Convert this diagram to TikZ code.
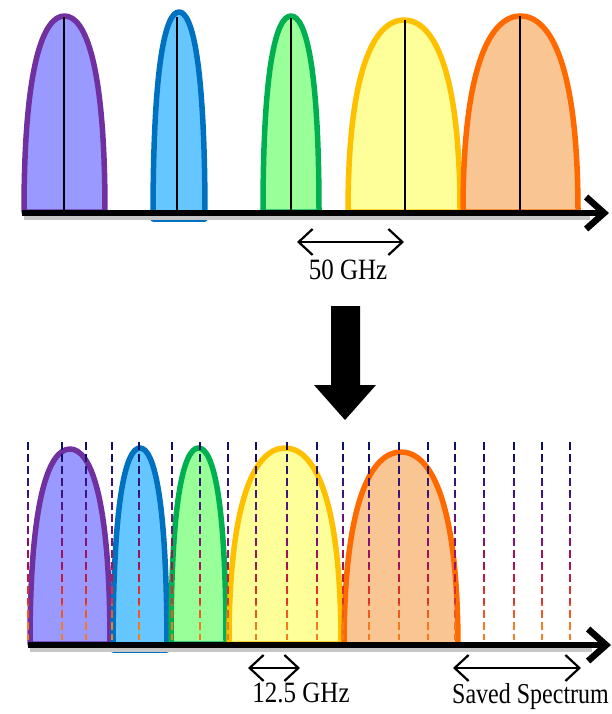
\documentclass[tikz,border=0pt]{standalone}
\usepackage{graphicx}
\usepackage{fontspec}
\setmainfont{Liberation Serif}
\usetikzlibrary{arrows.meta}
\definecolor{purpO}{HTML}{7030A0}
\definecolor{purpF}{HTML}{9999FF}
\definecolor{blueO}{HTML}{0070C0}
\definecolor{blueF}{HTML}{66C6FF}
\definecolor{greenO}{HTML}{00B050}
\definecolor{greenF}{HTML}{99FF99}
\definecolor{yellO}{HTML}{FFC000}
\definecolor{yellF}{HTML}{FFFF99}
\definecolor{oranO}{HTML}{FF6A00}
\definecolor{oranF}{HTML}{F9C593}
\tikzset{
  arch/.style={line width=5.5pt, line join=round},
  axisline/.style={line width=6pt, -{Straight Barb[length=18pt,width=32pt,line width=6.5pt]}},
  axisshadow/.style={line width=5pt, draw=black!22},
  centerline/.style={line width=2.8pt, draw=black},
  dblarrow/.style={line width=2.2pt, {Straight Barb[length=14pt,width=26pt]}-{Straight Barb[length=14pt,width=26pt]}},
  lbl/.style={inner sep=0pt, font=\fontsize{25}{28}\selectfont},
  gridline/.style={line width=2pt, dash pattern=on 8pt off 4pt}
}
\newcommand{\spectarch}[6]{%
  \pgfmathsetmacro\archcx{(#1+#2)/2}%
  \pgfmathsetmacro\archhw{(#2-#1)/2}%
  \pgfmathsetmacro\archcy{#3+0.25*(#4-#3)}%
  \pgfmathsetmacro\archla{\archcx-0.52*\archhw}%
  \pgfmathsetmacro\archra{\archcx+0.52*\archhw}%
  \draw[arch, draw=#5, fill=#6] (#1,#4) .. controls (#1,\archcy) and (\archla,#3) .. (\archcx,#3)
     .. controls (\archra,#3) and (#2,\archcy) .. (#2,#4) -- cycle;
}
\begin{document}
\begin{tikzpicture}[x=1pt,y=-1pt]
\useasboundingbox (0,0) rectangle (612,714);
% ---------- top panel ----------
\spectarch{24}{105}{16}{212}{purpO}{purpF}
\spectarch{153}{205}{12}{219}{blueO}{blueF}
\spectarch{263}{319}{16}{212}{greenO}{greenF}
\spectarch{348}{460}{20}{212}{yellO}{yellF}
\spectarch{463}{578}{16}{212}{oranO}{oranF}
\coordinate (c1t) at (64,17);   \coordinate (c1b) at (64,218);
\coordinate (c2t) at (177,17);  \coordinate (c2b) at (177,218);
\coordinate (c3t) at (291,18);  \coordinate (c3b) at (291,218);
\coordinate (c4t) at (405,20);  \coordinate (c4b) at (405,218);
\coordinate (c5t) at (520,16);  \coordinate (c5b) at (520,218);
\foreach \i in {1,...,5} \draw[centerline] (c\i t) -- (c\i b);
\coordinate (ta0) at (22,213);
\coordinate (ta1) at (609,213);
\draw[axisshadow] (24,217.5) -- (590,217.5);
\draw[axisline] (ta0) -- (ta1);
\coordinate (f0) at (297,242);
\coordinate (f1) at (404,242);
\draw[dblarrow] (f0) -- (f1);
\node[lbl] (l50) at (348,270) {\scalebox{1}[1.18]{50 GHz}};
% ---------- down arrow ----------
\fill[black] (331,306) -- (360,306) -- (360,385) -- (376,385) -- (345,420) -- (314,385) -- (331,385) -- cycle;
% ---------- bottom panel ----------
\spectarch{30}{110}{449}{644}{purpO}{purpF}
\spectarch{113}{167}{448}{650}{blueO}{blueF}
\spectarch{171}{226}{448}{644}{greenO}{greenF}
\spectarch{229}{341}{448}{644}{yellO}{yellF}
\spectarch{344}{458}{452}{648}{oranO}{oranF}
% dashed grid with colour gradient
\foreach \zc [count=\z from 0] in {10106A,241476,38147C,501682,681480,841272,A21258,C4183E,DE302E,F05A22,F87A1E} {
  \definecolor{zonecol}{HTML}{\zc}
  \begin{scope}
    \clip (0,{442+18*\z}) rectangle (612,{442+18*(\z+1)});
    \foreach \gx in {28,62,86,112,139,172,200,228,256,287,317,343,369,399,428,455,484,514,542,570}
      \draw[gridline, draw=zonecol] (\gx,442) -- (\gx,640);
  \end{scope}
}
\coordinate (ba0) at (28,645);
\coordinate (ba1) at (611,645);
\draw[axisshadow] (30,649.5) -- (592,649.5);
\draw[axisline] (ba0) -- (ba1);
\coordinate (g0) at (248,668);
\coordinate (g1) at (300,668);
\draw[dblarrow] (g0) -- (g1);
\node[lbl] (l125) at (301,693) {\scalebox{1}[1.18]{12.5 GHz}};
\coordinate (s0) at (453,668);
\coordinate (s1) at (581,668);
\draw[dblarrow] (s0) -- (s1);
\node[lbl, anchor=west, font=\fontsize{24}{28}\selectfont] (lsaved) at (452,697) {\scalebox{1}[1.2]{Saved Spectrum}};
\end{tikzpicture}
\end{document}
